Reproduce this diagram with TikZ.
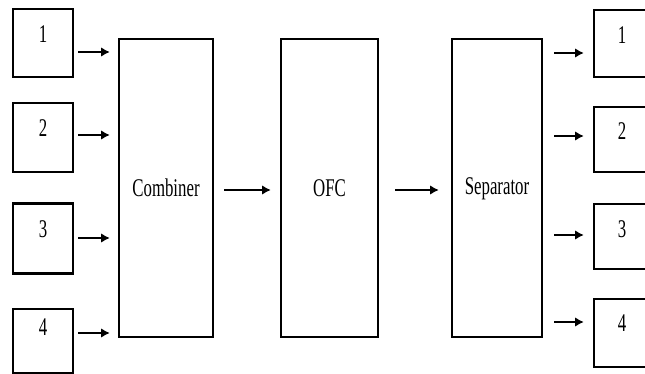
\documentclass[tikz,border=0pt]{standalone}
\usepackage{fontspec}
\setmainfont{Liberation Serif}
\usetikzlibrary{arrows.meta}
\begin{document}
\begin{tikzpicture}[x=0.02cm,y=-0.02cm,
  box/.style={draw=black,line width=1.3pt,rectangle,inner sep=0pt},
  lbl/.style={font=\fontsize{14.5}{14.5}\selectfont,xscale=0.66,inner sep=0pt},
  arr/.style={line width=1.4pt,-{Latex[length=5pt,width=5.5pt]}}]
\useasboundingbox (0,0) rectangle (645,374);
\clip (0,0) rectangle (645,374);
% left boxes
\node[box,minimum width=60*0.02cm,minimum height=68*0.02cm] (b1) at (43,43) {};
\node[box,minimum width=60*0.02cm,minimum height=69*0.02cm] (b2) at (43,137.5) {};
\node[box,minimum width=60*0.02cm,minimum height=70*0.02cm] (b3) at (43,238.5) {};
\node[box,minimum width=60*0.02cm,minimum height=64*0.02cm] (b4) at (43,341) {};
\node[lbl] (t1) at (43,34) {1};
\node[lbl] (t2) at (43,128) {2};
\node[lbl] (t3) at (43,229) {3};
\node[lbl] (t4) at (43,327) {4};
% main blocks
\node[box,minimum width=94*0.02cm,minimum height=298*0.02cm] (comb) at (166,188) {};
\node[box,minimum width=97*0.02cm,minimum height=298*0.02cm] (ofc) at (329.5,188) {};
\node[box,minimum width=90*0.02cm,minimum height=298*0.02cm] (sep) at (497,188) {};
\node[lbl] (tc) at (166,188) {Combiner};
\node[lbl] (to) at (329.5,188) {OFC};
\node[lbl] (ts) at (497,189) {Separator};
% right boxes
\node[box,minimum width=60*0.02cm,minimum height=67*0.02cm] (r1) at (624,43.5) {};
\node[box,minimum width=60*0.02cm,minimum height=65*0.02cm] (r2) at (624,139.5) {};
\node[box,minimum width=60*0.02cm,minimum height=65*0.02cm] (r3) at (624,236.5) {};
\node[box,minimum width=60*0.02cm,minimum height=68*0.02cm] (r4) at (624,333) {};
\node[lbl] (u1) at (622,35) {1};
\node[lbl] (u2) at (622,131) {2};
\node[lbl] (u3) at (622,229) {3};
\node[lbl] (u4) at (622,323) {4};
% arrow heights
\coordinate (a1) at (0,52);
\coordinate (a2) at (0,135);
\coordinate (a3) at (0,238);
\coordinate (a4) at (0,333);
\coordinate (m) at (0,190);
\coordinate (c1) at (0,53);
\coordinate (c2) at (0,136);
\coordinate (c3) at (0,235);
\coordinate (c4) at (0,322);
\foreach \i in {1,2,3,4}{
  \draw[arr,shorten <=4*0.02cm,shorten >=8*0.02cm] (b\i.east|-a\i) -- (comb.west|-a\i);
  \draw[arr,shorten <=11*0.02cm,shorten >=9*0.02cm] (sep.east|-c\i) -- (r\i.west|-c\i);
}
\draw[arr,shorten <=10*0.02cm,shorten >=9*0.02cm] (comb.east|-m) -- (ofc.west|-m);
\draw[arr,shorten <=16*0.02cm,shorten >=12*0.02cm] (ofc.east|-m) -- (sep.west|-m);
\end{tikzpicture}
\end{document}
